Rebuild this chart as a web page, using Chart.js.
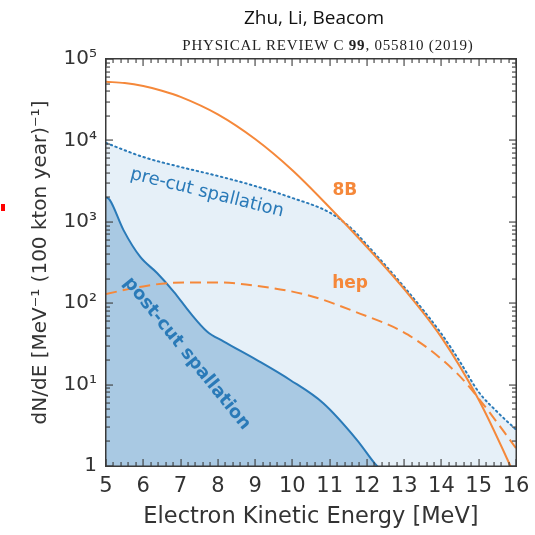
<!DOCTYPE html>
<html lang="en">
<head>
    <meta charset="UTF-8">
    <script src="https://cdn.jsdelivr.net/npm/chart.js"></script>
    <title>Spallation spectrum</title>
    <style>
        body { margin: 0; background: #fff; }
        .quadro { position: relative; width: 535px; height: 535px; }
        .autores { position: absolute; left: 0; width: 628px; top: 4px; text-align: center;
                   font-family: "Open Sans", sans-serif; font-size: 19px; color: #111; }
        .revista { position: absolute; left: 0; width: 656px; top: 37px; text-align: center;
                   font-family: "Liberation Serif", serif; font-size: 15px; color: #222; letter-spacing: 0.8px; }
        .marca { position: absolute; left: 1px; top: 204px; width: 4px; height: 7px; background: #f00; }
    </style>
</head>
<body>
<div class="quadro">
    <canvas id="grafico" width="535" height="535"></canvas>
    <div class="autores">Zhu, Li, Beacom</div>
    <div class="revista">PHYSICAL REVIEW C <b>99</b>, 055810 (2019)</div>
    <div class="marca"></div>
</div>
<script>
// energias (MeV) e valores
const energia8B = [5, 5.5, 6, 6.5, 7, 8, 9, 10, 11, 12, 13, 14, 15, 15.85, 16];
const valores8B = [52500, 50700, 46600, 40800, 34300, 20900, 10400, 4300, 1500, 490, 149, 38, 6.5, 1.0, 0.7];

const energiaHep = [5, 5.9, 6.8, 8.0, 9.05, 10.4, 11.7, 13.1, 14.4, 15.1, 16];
const valoresHep = [130, 158, 178, 180, 163, 126, 78, 41, 14, 5.9, 1.66];

const energiaPre = [5, 6, 7, 8, 9, 10, 11, 11.6, 12, 13, 14, 14.5, 15, 15.5, 16];
const valoresPre = [9300, 6250, 4710, 3660, 2750, 1960, 1300, 815, 520, 158, 42, 19, 8.1, 4.6, 2.8];

const energiaPos = [5, 5.1, 5.47, 5.92, 6.37, 6.82, 7.26, 7.71, 8.15, 9.05, 9.94, 10.83, 11.73, 12.27, 12.5];
const valoresPos = [2000, 1860, 790, 370, 235, 138, 76, 45, 34, 20, 11.4, 5.9, 2.1, 1.0, 0.8];

const ticksY = [1, 10, 100, 1000, 10000, 100000];
const rotulosY = ['1', '10¹', '10²', '10³', '10⁴', '10⁵'];

// rotulos dentro do grafico: texto, energia, valor, angulo
const anotacoes = [
    { texto: '8B', x: 11.41, y: 2390, ang: 0, cor: '#f5883a', fonte: 'bold 17px "DejaVu Sans"' },
    { texto: 'hep', x: 11.55, y: 172, ang: 0, cor: '#f5883a', fonte: 'bold 17px "DejaVu Sans"' },
    { texto: 'pre-cut spallation', x: 7.71, y: 2260, ang: 14, cor: '#2a7ab8', fonte: '18px "DejaVu Sans"' },
    { texto: 'post-cut spallation', x: 7.17, y: 24, ang: 51, cor: '#2a7ab8', fonte: 'bold 18px "DejaVu Sans"' }
];

const laranja = '#f5883a';
const azul = '#2a7ab8';

function pares(xs, ys) {
    return xs.map((x, i) => ({ x: x, y: ys[i] }));
}

// moldura com ticks para dentro (estilo matplotlib) + anotacoes
// (desenhada com fillRect)
const moldura = {
    id: 'moldura',
    afterDraw(chart) {
        const ctx = chart.ctx;
        const sx = chart.scales.x;
        const sy = chart.scales.y;
        const esq = Math.round(sx.getPixelForValue(5));
        const dir = Math.round(sx.getPixelForValue(16));
        const topo = Math.round(sy.getPixelForValue(100000));
        const base = Math.round(sy.getPixelForValue(1));

        ctx.save();
        anotacoes.forEach(n => {
            ctx.save();
            ctx.translate(sx.getPixelForValue(n.x), sy.getPixelForValue(n.y));
            ctx.rotate(n.ang * Math.PI / 180);
            ctx.font = n.fonte;
            ctx.fillStyle = n.cor;
            ctx.textAlign = 'center';
            ctx.textBaseline = 'middle';
            ctx.fillText(n.texto, 0, 0);
            ctx.restore();
        });

        ctx.fillStyle = '#3a3a3a';
        ctx.fillRect(esq - 1, topo - 1, dir - esq + 2, 1.5);
        ctx.fillRect(esq - 1, base - 0.5, dir - esq + 2, 1.5);
        ctx.fillRect(esq - 1, topo - 1, 1.5, base - topo + 2);
        ctx.fillRect(dir - 0.5, topo - 1, 1.5, base - topo + 2);

        for (let i = 0; i <= 55; i++) {
            const px = Math.round(sx.getPixelForValue(5 + i * 0.2));
            const t = (i % 5 === 0) ? 7 : 4;
            ctx.fillRect(px - 0.5, base - t, 1.1, t);
            ctx.fillRect(px - 0.5, topo, 1.1, t);
        }
        for (let d = 1; d <= 100000; d *= 10) {
            for (let k = 1; k <= 9; k++) {
                const v = d * k;
                if (v > 100000) break;
                const py = Math.round(sy.getPixelForValue(v));
                const t = k === 1 ? 7 : 4;
                ctx.fillRect(esq, py - 0.5, t, 1.1);
                ctx.fillRect(dir - t, py - 0.5, t, 1.1);
            }
        }
        ctx.restore();
    }
};

new Chart(document.getElementById('grafico'), {
    type: 'line',
    data: {
        datasets: [
            {
                label: '8B',
                data: pares(energia8B, valores8B),
                borderColor: laranja,
                borderWidth: 2,
                fill: false,
                order: 1
            },
            {
                label: 'hep',
                data: pares(energiaHep, valoresHep),
                borderColor: laranja,
                borderWidth: 2,
                borderDash: [11, 6],
                fill: false,
                order: 2
            },
            {
                label: 'post-cut spallation',
                data: pares(energiaPos, valoresPos),
                borderColor: azul,
                borderWidth: 2,
                backgroundColor: '#a9c9e3',
                fill: 'start',
                order: 3
            },
            {
                label: 'pre-cut spallation',
                data: pares(energiaPre, valoresPre),
                borderColor: azul,
                borderWidth: 2,
                borderDash: [1.5, 3.5],
                borderCapStyle: 'round',
                backgroundColor: '#e6f0f8',
                fill: 'start',
                order: 4
            }
        ]
    },
    options: {
        responsive: false,
        animation: false,
        devicePixelRatio: 1,
        layout: { padding: { top: 59, right: 19, left: 0, bottom: 0 } },
        elements: {
            point: { radius: 0 },
            line: { cubicInterpolationMode: 'monotone' }
        },
        plugins: {
            legend: { display: false },
            tooltip: { enabled: false }
        },
        scales: {
            x: {
                type: 'linear',
                min: 5,
                max: 16,
                grid: { display: false },
                border: { display: false },
                ticks: {
                    stepSize: 1,
                    maxRotation: 0,
                    padding: 0,
                    color: '#333',
                    font: { family: 'DejaVu Sans', size: 21 }
                },
                title: {
                    display: true,
                    text: 'Electron Kinetic Energy [MeV]',
                    color: '#333',
                    font: { family: 'DejaVu Sans', size: 22.5 },
                    padding: { top: 6 }
                },
                afterFit(scale) { scale.height = 69; }
            },
            y: {
                type: 'logarithmic',
                min: 1,
                max: 100000,
                grid: { display: false },
                border: { display: false },
                afterBuildTicks(scale) {
                    scale.ticks = ticksY.map(v => ({ value: v }));
                },
                ticks: {
                    padding: 1,
                    color: '#333',
                    font: { family: 'DejaVu Sans', size: 20 },
                    callback: function (value, index) { return rotulosY[index]; }
                },
                title: {
                    display: true,
                    text: 'dN/dE [MeV⁻¹ (100 kton year)⁻¹]',
                    color: '#333',
                    font: { family: 'DejaVu Sans', size: 20 },
                    padding: { bottom: 0, top: 29 }
                },
                afterFit(scale) { scale.width = 106; }
            }
        }
    },
    plugins: [moldura]
});
</script>
</body>
</html>
